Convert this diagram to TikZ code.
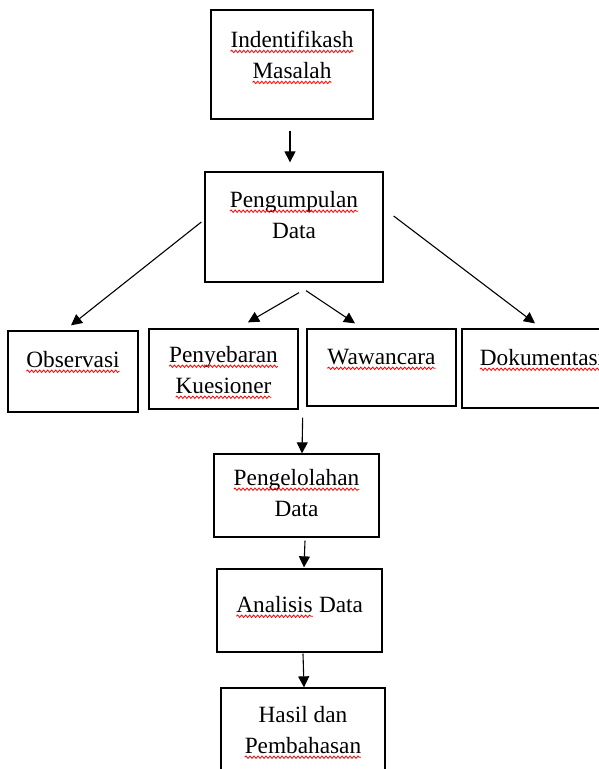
\documentclass[tikz,border=0pt]{standalone}
\usepackage{fontspec}
\setmainfont{Liberation Serif}
\usetikzlibrary{arrows.meta,calc,decorations.pathmorphing}
\newcommand\spell[1]{\tikz[baseline=(w.base)]{\node[inner sep=0pt,outer sep=0pt] (w) {#1};
		\draw[red,line width=0.8pt,decorate,decoration={snake,amplitude=1.2pt,segment length=4pt}] ([yshift=-3.5pt]w.base west) -- ([yshift=-3.5pt]w.base east);}}

\begin{document}
\begin{tikzpicture}[x=1pt,y=-1pt,
		kotak/.style={draw,line width=1.3pt,inner sep=0pt},
		teks/.style={inner sep=0pt,align=center,anchor=north,font=\fontsize{23.3}{31}\selectfont},
		panah/.style={line width=1.1pt,-{Triangle[length=11pt,width=11pt]}}]
		\useasboundingbox (0,0) rectangle (599,769);
		\clip (0,0) rectangle (599,769);
		\node[kotak,minimum width=162,minimum height=109] (idm) at (292,64.5) {};
		\node[kotak,minimum width=178,minimum height=110] (pgd) at (294,227) {};
		\node[kotak,minimum width=130,minimum height=81] (obs) at (73,371.5) {};
		\node[kotak,minimum width=149,minimum height=80] (pkq) at (223.5,369) {};
		\node[kotak,minimum width=149,minimum height=77] (wwc) at (381.5,367.5) {};
		\node[kotak,minimum width=160,minimum height=79] (dok) at (542,368.5) {};
		\node[kotak,minimum width=165,minimum height=83] (pgl) at (296.5,495.5) {};
		\node[kotak,minimum width=165,minimum height=83] (ans) at (299.5,610.5) {};
		\node[kotak,minimum width=164,minimum height=87] (hpb) at (303,731.5) {};
		
		\node[teks] (idmT) at ($(idm.north)+(0,22)$) {\spell{Indentifikash}\\\spell{Masalah}};
		\node[teks] (pgdT) at ($(pgd.north)+(0,20)$) {\spell{Pengumpulan}\\Data};
		\node[teks] (obsT) at ($(obs.north)+(0,21)$) {\spell{Observasi}};
		\node[teks] (pkqT) at ($(pkq.north)+(0,18)$) {\spell{Penyebaran}\\\spell{Kuesioner}};
		\node[teks] (wwcT) at ($(wwc.north)+(0,21)$) {\spell{Wawancara}};
		\node[teks] (dokT) at ($(dok.north)+(0,21)$) {\spell{Dokumentasi}};
		\node[teks] (pglT) at ($(pgl.north)+(0,16)$) {\spell{Pengelolahan}\\Data};
		\node[teks] (ansT) at ($(ans.north)+(0,28)$) {\spell{Analisis} Data};
		\node[teks] (hpbT) at ($(hpb.north)+(0,19)$) {Hasil dan\\\spell{Pembahasan}};
		
		\draw[panah] ($(idm.south)+(-2,11)$) -- ($(pgd.north)+(-4,-9)$);
		\draw[panah] ($(pgd.west)+(-3,-5)$) -- ($(obs.north)+(-2,-5)$);
		\draw[panah] ($(pgd.east)+(10,-11)$) -- ($(dok.north)+(-7,-5)$);
		\draw[panah] ($(pgd.south)+(5,10)$) -- ($(pkq.north)+(24.5,-6)$);
		\draw[panah] ($(pgd.south)+(12,8)$) -- ($(wwc.north)+(-26.5,-5)$);
		\draw[panah] ($(pkq.south east)+(4,8)$) -- ($(pgl.north)+(5.5,0)$);
		\draw[panah] ($(pgl.south)+(8.5,3)$) -- ($(ans.north)+(4.5,-1)$);
		\draw[panah] ($(ans.south)+(3.5,1)$) -- ($(hpb.north)+(1,0)$);
\end{tikzpicture}
\end{document}
